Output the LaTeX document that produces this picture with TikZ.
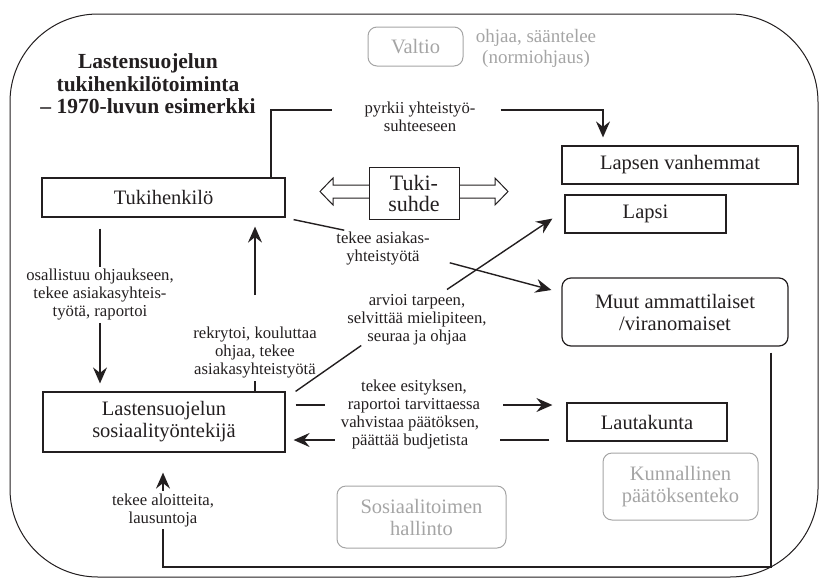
\documentclass[tikz,border=0pt]{standalone}
\usepackage{fontspec}
\setmainfont{Liberation Serif}
\usetikzlibrary{arrows.meta}
\definecolor{linegray}{RGB}{35,31,32}
\definecolor{fadegray}{RGB}{165,165,165}
\newcommand{\boxfont}{\fontsize{20.5}{22}\selectfont}
\newcommand{\lblfont}{\fontsize{16.7}{18}\selectfont}
\newcommand{\titlefont}{\fontsize{21.5}{22.5}\selectfont\bfseries}

\tikzset{
  box/.style={draw=linegray, line width=1.2pt, inner sep=0pt, font=\boxfont, text=linegray, align=center},
  roundbox/.style={box, rounded corners=9pt},
  govbox/.style={draw=fadegray, line width=1pt, rounded corners=9pt, text=fadegray, font=\boxfont, align=center, inner sep=0pt},
  lbl/.style={font=\lblfont, align=center, inner sep=2pt, text=linegray},
  link/.style={draw=linegray, line width=1.4pt},
  arr/.style={link, -{Stealth[length=16pt, width=14pt, inset=5.5pt]}},
}

\begin{document}
\begin{tikzpicture}[x=1pt,y=-1pt]
\useasboundingbox (0,0) rectangle (819,579);
% outer frame
\draw[linegray, line width=1pt, rounded corners=88pt] (10,14) rectangle (818,577);

\node[font=\titlefont, align=center, text=linegray] (otsikko) at (148,84) {Lastensuojelun\\tukihenkilötoiminta\\– 1970-luvun esimerkki};

% grey actors
\node[govbox, minimum width=95pt, minimum height=39pt] (valtio) at (415.5,46.5) {Valtio};
\node[lbl, text=fadegray, font=\fontsize{19}{21}\selectfont] (ohjaa) at (536,48) {ohjaa, sääntelee\\(normiohjaus)};
\node[govbox, minimum width=155pt, minimum height=67pt] (kunta) at (680.5,486.5) {Kunnallinen\\päätöksenteko};
\node[govbox, minimum width=169pt, minimum height=62pt] (hallinto) at (421.5,517) {Sosiaalitoimen\\hallinto};

% boxes
\node[box, minimum width=243pt, minimum height=39pt] (tuki) at (163.5,197.5) {Tukihenkilö};
\node[box, minimum width=242pt, minimum height=60pt] (sos) at (164,422) {Lastensuojelun\\sosiaalityöntekijä};
\node[box, minimum width=236pt, minimum height=38pt] (vanh) at (680,165) {Lapsen vanhemmat};
\node[box, minimum width=161pt, minimum height=38pt] (lapsi) at (645.5,214) {Lapsi};
\node[roundbox, minimum width=226pt, minimum height=68pt] (muut) at (675,312) {Muut ammattilaiset\\/viranomaiset};
\node[box, minimum width=160pt, minimum height=38pt] (lauta) at (647,422) {Lautakunta};

% Tuki-suhde
\draw[linegray, line width=1pt, fill=white] (320,191.5) -- (333,178) -- (333,185) -- (495,185) -- (495,178)
  -- (508,191.5) -- (495,205) -- (495,198) -- (333,198) -- (333,205) -- cycle;
\node[box, line width=1pt, fill=white, minimum width=90pt, minimum height=52pt, font=\fontsize{22}{21}\selectfont] (suhde) at (414,193) {Tuki-\\suhde};

% labels
\node[lbl] (l-pyrkii) at (420,117) {pyrkii yhteistyö-\\suhteeseen};
\node[lbl] (l-osall) at (100,295) {osallistuu ohjaukseen,\\tekee asiakasyhteis-\\työtä, raportoi};
\node[lbl] (l-rekry) at (255,353) {rekrytoi, kouluttaa\\ohjaa, tekee\\asiakasyhteistyötä};
\node[lbl] (l-asiakas) at (383,249) {tekee asiakas-\\yhteistyötä};
\node[lbl] (l-arvioi) at (417,320) {arvioi tarpeen,\\selvittää mielipiteen,\\seuraa ja ohjaa};
\node[lbl] (l-esitys) at (414,396) {tekee esityksen,\\raportoi tarvittaessa};
\node[lbl] (l-vahvistaa) at (410,432) {vahvistaa päätöksen,\\päättää budjetista};
\node[lbl] (l-aloite) at (163,510) {tekee aloitteita,\\lausuntoja};

\coordinate (kulma1) at (271,110);
\coordinate (kulma2) at (603,110);
\coordinate (kulma3) at (771,567);
\coordinate (kulma4) at (163,567);
\coordinate (rivi1) at (0,405);
\coordinate (rivi2) at (0,440);

% connectors
\draw[link, shorten >=30pt] (tuki.north -| kulma1) -- (kulma1) -- (l-pyrkii.west |- kulma1);
\draw[arr, shorten <=23pt, shorten >=8pt] (l-pyrkii.east |- kulma2) -- (kulma2) -- (vanh.north -| kulma2);

\draw[link, shorten <=11pt] (tuki.south -| l-osall) -- (l-osall.north);
\draw[arr, shorten >=8pt] (l-osall.south) -- (sos.north -| l-osall);

\draw[link] (sos.north -| l-rekry) -- (l-rekry.south);
\draw[arr, shorten <=30pt, shorten >=9pt] (l-rekry.north) -- (tuki.south -| l-rekry);

\draw[link] ([shift={(8,2)}]tuki.south east) -- ([shift={(10,0)}]l-asiakas.north west);
\draw[arr] ([shift={(18,-5)}]l-asiakas.south east) -- ([shift={(-10,-22)}]muut.west);

\draw[link] ([shift={(10,0)}]sos.north east) -- ([shift={(16,-2)}]l-arvioi.south west);
\draw[arr] ([shift={(30,-3)}]l-arvioi.north) -- ([shift={(-12,-15)}]lapsi.south west);

\draw[link, shorten <=10pt, shorten >=21pt] (sos.east |- rivi1) -- (l-esitys.west |- rivi1);
\draw[arr, shorten <=21pt, shorten >=14pt] (l-esitys.east |- rivi1) -- (lauta.west |- rivi1);
\draw[link, shorten <=17pt, shorten >=19pt] (lauta.west |- rivi2) -- (l-vahvistaa.east |- rivi2);
\draw[arr, shorten <=4pt, shorten >=8pt] (l-vahvistaa.west |- rivi2) -- (sos.east |- rivi2);

\draw[link, line width=2.2pt, shorten <=6pt] (muut.south -| kulma3) -- (kulma3) -- (kulma4) -- (l-aloite.south);
\draw[arr, line width=1.6pt, shorten >=20pt] (l-aloite.north) -- (sos.south -| l-aloite);
\end{tikzpicture}
\end{document}
